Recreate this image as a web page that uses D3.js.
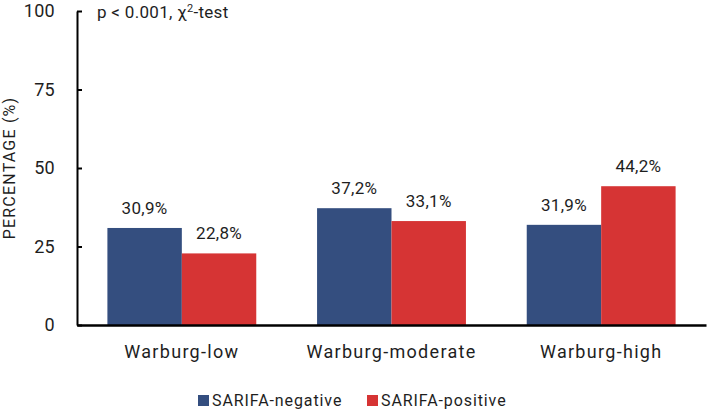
<!DOCTYPE html>
<html>
<head>
<meta charset="utf-8">
<script src="https://cdn.jsdelivr.net/npm/d3@7"></script>
<style>
  body { margin: 0; background: #fff; }
  text { font-family: Roboto, "DejaVu Sans", sans-serif; fill: #1e1e1e; }
</style>
</head>
<body>
<script>
var categories = ["Warburg-low", "Warburg-moderate", "Warburg-high"];
var seriesNames = ["SARIFA-negative", "SARIFA-positive"];
var negative = [30.9, 37.2, 31.9];
var positive = [22.8, 33.1, 44.2];
var yTicks = [0, 25, 50, 75, 100];
var colors = ["#344e7f", "#d63434"];

var width = 708, height = 411;
var plotLeft = 77, plotRight = 706, plotTop = 11, plotBottom = 325;

var svg = d3.select("body").append("svg")
    .attr("width", width)
    .attr("height", height);

var y = d3.scaleLinear().domain([0, 100]).range([plotBottom, plotTop]);
var x0 = d3.scaleBand().domain(categories).range([plotLeft, plotRight])
    .paddingInner(0.29).paddingOuter(0.145);
var x1 = d3.scaleBand().domain(seriesNames).range([0, x0.bandwidth()]);

var rows = categories.map(function(c, i) {
    return { cat: c, vals: [negative[i], positive[i]] };
});

// bars
var groups = svg.selectAll("g.cat").data(rows).enter().append("g")
    .attr("class", "cat")
    .attr("transform", function(d) { return "translate(" + x0(d.cat) + ",0)"; });

groups.selectAll("rect").data(function(d) {
    return d.vals.map(function(v, j) { return { name: seriesNames[j], v: v, j: j }; });
}).enter().append("rect")
    .attr("x", function(d) { return x1(d.name); })
    .attr("y", function(d) { return y(d.v); })
    .attr("width", x1.bandwidth())
    .attr("height", function(d) { return plotBottom - y(d.v); })
    .attr("fill", function(d) { return colors[d.j]; });

groups.selectAll("text.val").data(function(d) {
    return d.vals.map(function(v, j) { return { name: seriesNames[j], v: v }; });
}).enter().append("text")
    .attr("class", "val")
    .attr("x", function(d) { return x1(d.name) + x1.bandwidth() / 2; })
    .attr("y", function(d) { return y(d.v) - 14; })
    .attr("text-anchor", "middle")
    .style("font-size", "17px")
    .style("letter-spacing", "0.3px")
    .text(function(d) { return d.v.toFixed(1).replace(".", ",") + "%"; });

// y axis
var yAxis = d3.axisLeft(y).tickValues(yTicks).tickSizeInner(-5).tickSizeOuter(0).tickPadding(22);
var yg = svg.append("g").attr("transform", "translate(" + plotLeft + ",0)").call(yAxis);
yg.select(".domain").attr("stroke", "#000").attr("stroke-width", 2);
yg.selectAll(".tick line").attr("stroke", "#000").attr("stroke-width", 2);
yg.selectAll(".tick text")
    .style("font-family", "Roboto, sans-serif")
    .style("font-size", "18px")
    .style("letter-spacing", "0.3px")
    .attr("fill", "#1e1e1e");

// x axis
var xAxis = d3.axisBottom(x0).tickSize(0).tickPadding(20);
var xg = svg.append("g").attr("transform", "translate(0," + plotBottom + ")").call(xAxis);
xg.select(".domain").attr("stroke", "#000").attr("stroke-width", 2.5);
xg.selectAll(".tick text")
    .style("font-family", "Roboto, sans-serif")
    .style("font-size", "18px")
    .style("letter-spacing", "1.3px")
    .attr("fill", "#1e1e1e");

// y title
svg.append("text")
    .attr("transform", "translate(15," + ((plotTop + plotBottom) / 2) + ") rotate(-90)")
    .attr("text-anchor", "middle")
    .style("font-size", "16px")
    .style("letter-spacing", "1.2px")
    .text("PERCENTAGE (%)");

// annotation
var ann = svg.append("text")
    .attr("x", 97)
    .attr("y", 18)
    .style("font-size", "17px")
    .style("letter-spacing", "0.3px");
ann.append("tspan").text("p < 0.001, \u03c7");
ann.append("tspan").attr("dy", -6).style("font-size", "11px").text("2");
ann.append("tspan").attr("dy", 6).text("-test");

// legend
var legX = [198, 367];
var leg = svg.selectAll("g.leg").data(seriesNames).enter().append("g")
    .attr("class", "leg")
    .attr("transform", function(d, i) { return "translate(" + legX[i] + ",395)"; });
leg.append("rect").attr("width", 11).attr("height", 11)
    .attr("fill", function(d, i) { return colors[i]; });
leg.append("text").attr("x", 14).attr("y", 11)
    .style("font-size", "16px")
    .style("letter-spacing", "0.9px")
    .text(function(d) { return d; });
</script>
</body>
</html>
